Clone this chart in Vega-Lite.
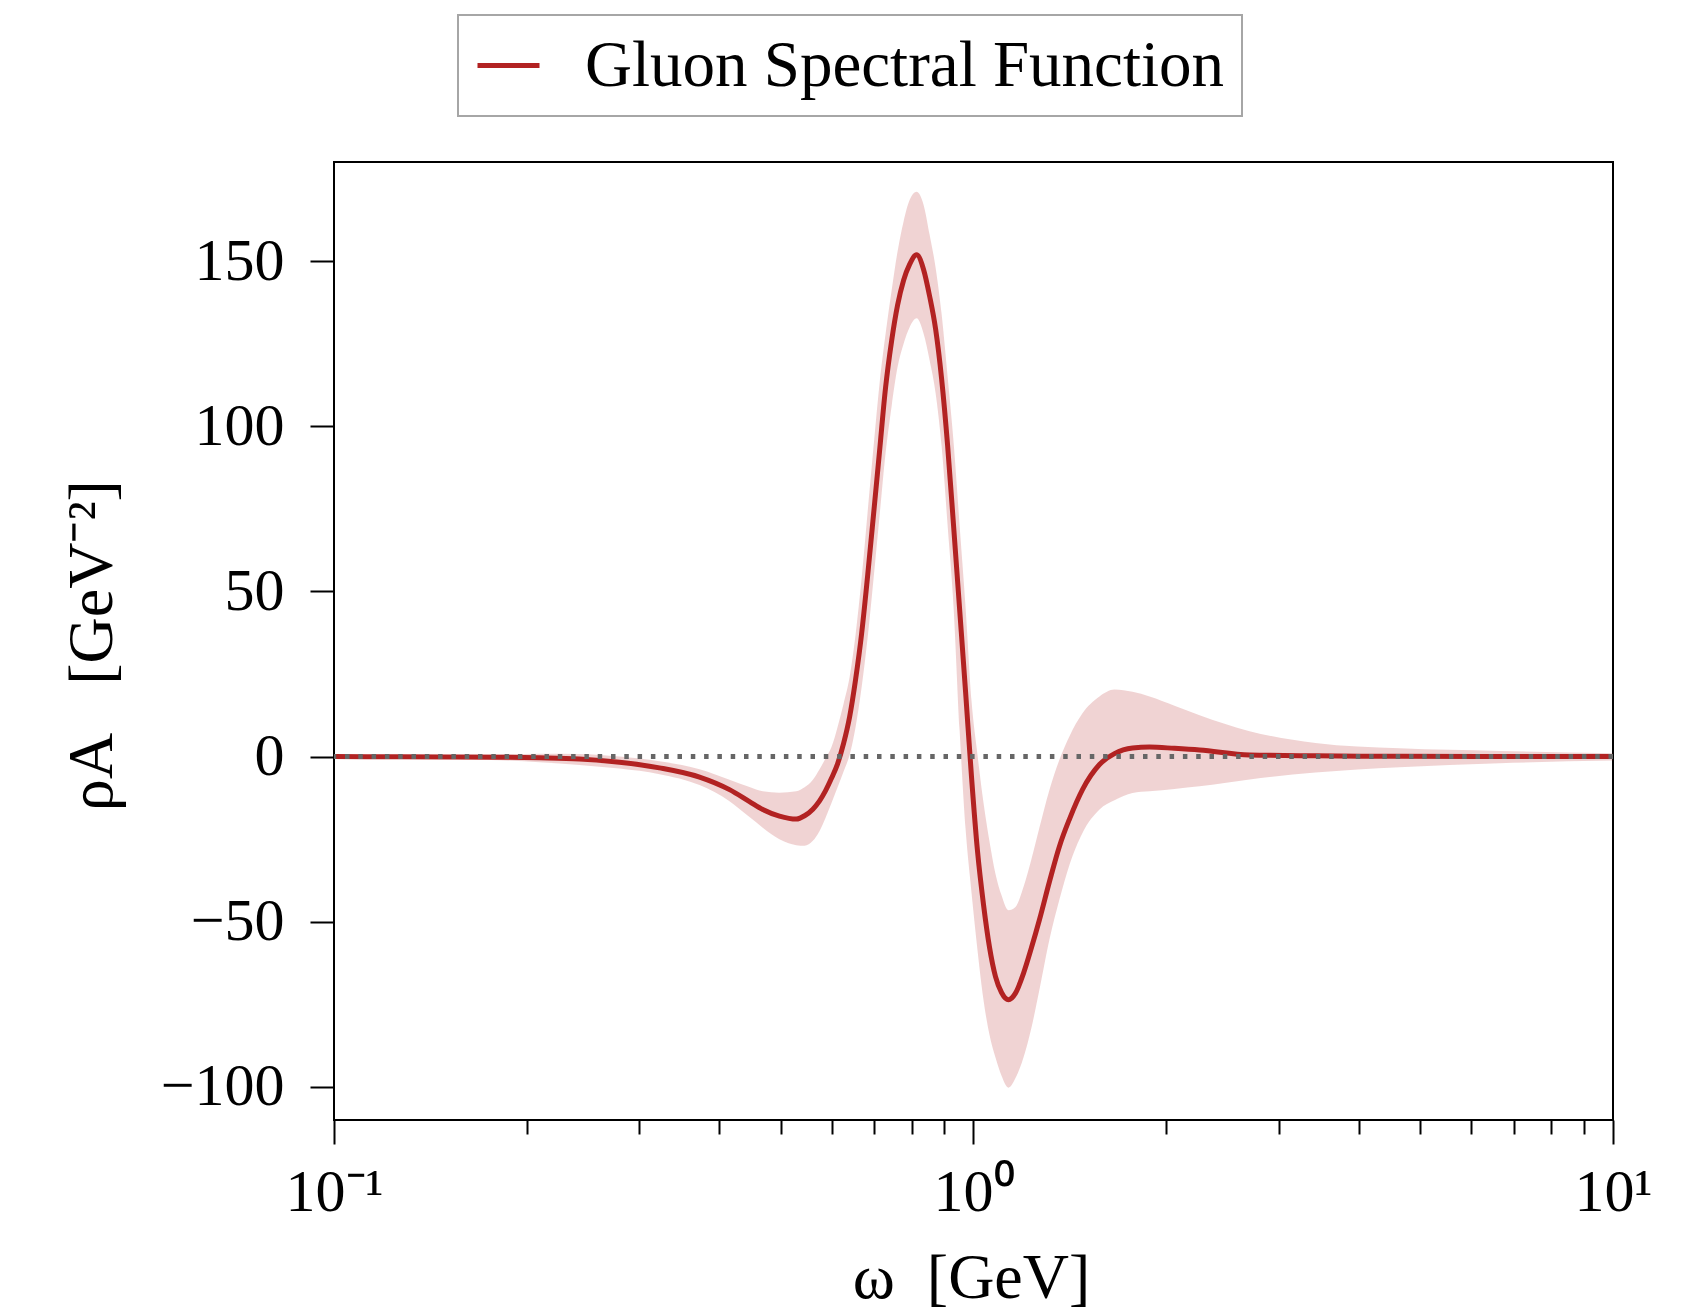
{
  "$schema": "https://vega.github.io/schema/vega-lite/v6.json",
  "autosize": {"type": "none"},
  "padding": {"left": 334, "top": 162, "right": 79, "bottom": 195},
  "width": 1279,
  "height": 958,
  "background": "white",
  "config": {
    "font": "Liberation Serif",
    "view": {"stroke": "black", "strokeWidth": 2},
    "axis": {
      "domain": false,
      "grid": false,
      "labelFont": "Liberation Serif",
      "labelFontSize": 60,
      "labelColor": "black",
      "titleFont": "Liberation Serif",
      "titleFontSize": 64,
      "titleFontWeight": "normal",
      "titleColor": "black",
      "tickColor": "black",
      "tickWidth": 2,
      "labelFlush": false,
      "labelOverlap": false
    },
    "legend": {
      "orient": "none",
      "legendX": 124,
      "legendY": -147,
      "strokeColor": "#a6a6a6",
      "strokeWidth": 2,
      "fillColor": "white",
      "padding": 17,
      "symbolType": "stroke",
      "symbolStrokeWidth": 5,
      "symbolSize": 3844,
      "labelFont": "Liberation Serif",
      "labelFontSize": 65,
      "labelColor": "black",
      "labelOffset": 43,
      "labelLimit": 2000
    }
  },
  "data": {
    "values": [
      {"w": 0.1, "rho": 0, "lo": -0.3, "hi": 0.3},
      {"w": 0.1266, "rho": -0.03, "lo": -0.5, "hi": 0.4},
      {"w": 0.1516, "rho": -0.08, "lo": -0.7, "hi": 0.5},
      {"w": 0.1815, "rho": -0.18, "lo": -1.1, "hi": 0.7},
      {"w": 0.2096, "rho": -0.35, "lo": -1.7, "hi": 0.9},
      {"w": 0.242, "rho": -0.7, "lo": -2.5, "hi": 0.8},
      {"w": 0.2795, "rho": -1.7, "lo": -3.6, "hi": 0.0},
      {"w": 0.3228, "rho": -3.4, "lo": -5.3, "hi": -1.4},
      {"w": 0.3729, "rho": -6.2, "lo": -8.6, "hi": -3.8},
      {"w": 0.4154, "rho": -10, "lo": -13.5, "hi": -7},
      {"w": 0.4464, "rho": -13.6, "lo": -18.3, "hi": -9.2},
      {"w": 0.4682, "rho": -16, "lo": -21.5, "hi": -10.5},
      {"w": 0.4972, "rho": -18, "lo": -25, "hi": -10.9},
      {"w": 0.5283, "rho": -18.9, "lo": -26.8, "hi": -10.5},
      {"w": 0.5443, "rho": -17.9, "lo": -27, "hi": -9.3},
      {"w": 0.5608, "rho": -15.9, "lo": -25.5, "hi": -7},
      {"w": 0.5745, "rho": -13.4, "lo": -22.5, "hi": -3.8},
      {"w": 0.5871, "rho": -10.3, "lo": -18.5, "hi": -0.5},
      {"w": 0.5999, "rho": -6.5, "lo": -14, "hi": 3},
      {"w": 0.613, "rho": -2.2, "lo": -9.3, "hi": 9},
      {"w": 0.6264, "rho": 4.0, "lo": -4.5, "hi": 16},
      {"w": 0.6401, "rho": 12.0, "lo": 0.5, "hi": 24},
      {"w": 0.6541, "rho": 23.4, "lo": 9, "hi": 37},
      {"w": 0.6684, "rho": 37.2, "lo": 21, "hi": 54},
      {"w": 0.683, "rho": 54.7, "lo": 36, "hi": 74},
      {"w": 0.6979, "rho": 73.5, "lo": 54, "hi": 94},
      {"w": 0.7131, "rho": 92.6, "lo": 73, "hi": 113},
      {"w": 0.7287, "rho": 111.8, "lo": 92, "hi": 128},
      {"w": 0.7446, "rho": 125.8, "lo": 106, "hi": 141},
      {"w": 0.7609, "rho": 136.7, "lo": 118, "hi": 153},
      {"w": 0.7775, "rho": 144.2, "lo": 125, "hi": 162},
      {"w": 0.7945, "rho": 149, "lo": 130, "hi": 168.5},
      {"w": 0.8148, "rho": 151.9, "lo": 132.7, "hi": 171},
      {"w": 0.8356, "rho": 147.4, "lo": 128, "hi": 167},
      {"w": 0.8538, "rho": 139.4, "lo": 120, "hi": 158},
      {"w": 0.8725, "rho": 129.4, "lo": 110, "hi": 148},
      {"w": 0.8915, "rho": 114.4, "lo": 94, "hi": 134},
      {"w": 0.911, "rho": 94.2, "lo": 70, "hi": 115},
      {"w": 0.9309, "rho": 69.7, "lo": 45, "hi": 95},
      {"w": 0.9512, "rho": 44.7, "lo": 8, "hi": 70},
      {"w": 0.972, "rho": 19.5, "lo": -22, "hi": 45},
      {"w": 0.9928, "rho": -6.1, "lo": -41.1, "hi": 17},
      {"w": 1.0145, "rho": -28.6, "lo": -58.6, "hi": 0.5},
      {"w": 1.0367, "rho": -44.8, "lo": -73.7, "hi": -14},
      {"w": 1.0593, "rho": -57.7, "lo": -84.2, "hi": -25.7},
      {"w": 1.0824, "rho": -66.6, "lo": -91.1, "hi": -35.5},
      {"w": 1.1061, "rho": -71.4, "lo": -96.6, "hi": -42},
      {"w": 1.1343, "rho": -73.6, "lo": -100.2, "hi": -46.5},
      {"w": 1.1632, "rho": -71.6, "lo": -97.3, "hi": -45.5},
      {"w": 1.1972, "rho": -65.6, "lo": -91.1, "hi": -39.5},
      {"w": 1.2322, "rho": -57.8, "lo": -82, "hi": -31},
      {"w": 1.2683, "rho": -49.3, "lo": -70.4, "hi": -21.4},
      {"w": 1.3147, "rho": -37.8, "lo": -55.3, "hi": -10},
      {"w": 1.3629, "rho": -27.1, "lo": -43.2, "hi": -0.9},
      {"w": 1.4129, "rho": -18.9, "lo": -32.7, "hi": 6.2},
      {"w": 1.4805, "rho": -10, "lo": -23.1, "hi": 13.1},
      {"w": 1.574, "rho": -2.4, "lo": -16, "hi": 18.2},
      {"w": 1.6614, "rho": 0.9, "lo": -13.2, "hi": 20.3},
      {"w": 1.773, "rho": 2.6, "lo": -11, "hi": 19.6},
      {"w": 1.885, "rho": 2.9, "lo": -10.5, "hi": 18.2},
      {"w": 2.062, "rho": 2.5, "lo": -9.8, "hi": 15.4},
      {"w": 2.257, "rho": 2.0, "lo": -9, "hi": 12.5},
      {"w": 2.702, "rho": 0.5, "lo": -6.9, "hi": 7.7},
      {"w": 3.426, "rho": 0.25, "lo": -4.8, "hi": 4.1},
      {"w": 4.637, "rho": 0.1, "lo": -3.2, "hi": 2.5},
      {"w": 6.645, "rho": 0.05, "lo": -2, "hi": 1.7},
      {"w": 10, "rho": 0, "lo": -1.2, "hi": 1.0}
    ]
  },
  "layer": [
    {
      "mark": {"type": "area", "color": "#b22222", "opacity": 0.2, "interpolate": "monotone"},
      "encoding": {
        "x": {
          "field": "w", "type": "quantitative",
          "scale": {"type": "log", "domain": [0.1, 10]},
          "axis": {
            "title": "ω\u00a0\u00a0[GeV]",
            "titleX": 637, "titleY": 177, "titleAlign": "center", "titleBaseline": "alphabetic",
            "values": [0.1, 0.2, 0.3, 0.4, 0.5, 0.6, 0.7, 0.8, 0.9, 1, 2, 3, 4, 5, 6, 7, 8, 9, 10],
            "labelExpr": "datum.value == 0.1 ? '10⁻¹' : (datum.value == 1 ? '10⁰' : (datum.value == 10 ? '10¹' : ''))",
            "tickSize": {"condition": {"test": "datum.value == 0.1 || datum.value == 1 || datum.value == 10", "value": 24}, "value": 14},
            "labelBaseline": "alphabetic",
            "labelPadding": 66
          }
        },
        "y": {
          "field": "lo", "type": "quantitative",
          "scale": {"domain": [-110, 180], "nice": false, "zero": false},
          "axis": {
            "title": "ρA\u00a0\u00a0\u00a0[GeV⁻²]",
            "values": [-100, -50, 0, 50, 100, 150],
            "tickSize": 24,
            "labelPadding": 26,
            "titleAngle": 270,
            "titleX": -223, "titleY": 483, "titleAlign": "center", "titleBaseline": "alphabetic"
          }
        },
        "y2": {"field": "hi"}
      }
    },
    {
      "mark": {"type": "line", "strokeWidth": 5, "interpolate": "monotone"},
      "encoding": {
        "x": {"field": "w", "type": "quantitative", "title": "ω\u00a0\u00a0[GeV]"},
        "y": {"field": "rho", "type": "quantitative", "title": "ρA\u00a0\u00a0\u00a0[GeV⁻²]"},
        "color": {"datum": "Gluon Spectral Function", "scale": {"range": ["#b22222"]}, "legend": {"title": null}}
      }
    },
    {
      "data": {"values": [{"zero": 0}]},
      "mark": {"type": "rule", "color": "#666666", "strokeWidth": 5, "strokeDash": [4.5, 8.8], "strokeCap": "butt"},
      "encoding": {
        "y": {"field": "zero", "type": "quantitative", "title": "ρA\u00a0\u00a0\u00a0[GeV⁻²]"}
      }
    }
  ]
}
